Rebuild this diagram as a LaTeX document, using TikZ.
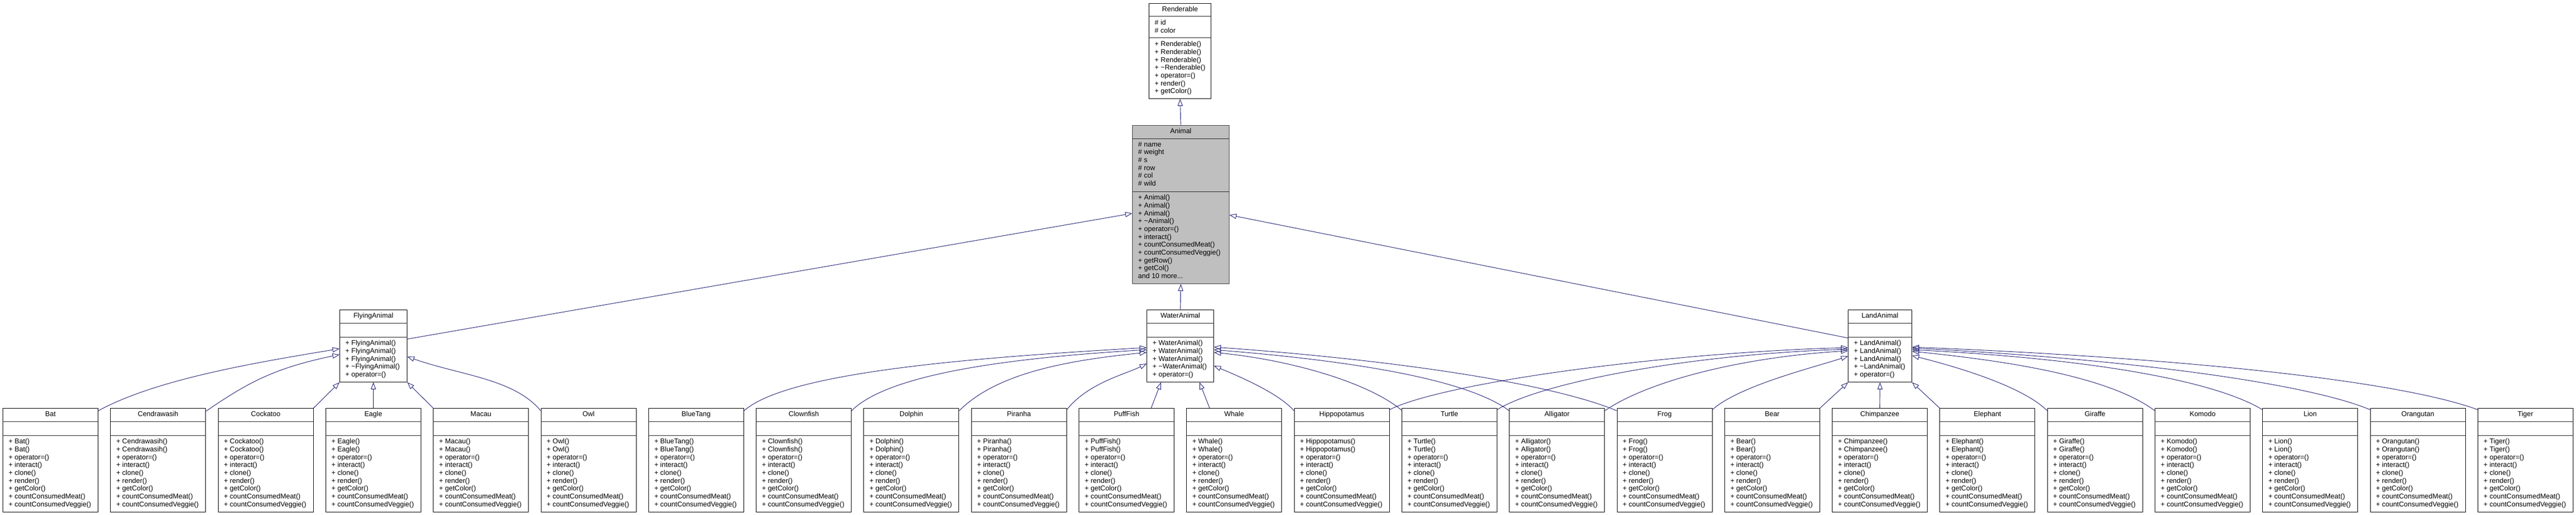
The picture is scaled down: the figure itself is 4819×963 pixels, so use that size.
\documentclass[tikz,border=0pt]{standalone}
\usepackage{fontspec}
\setmainfont{Liberation Sans}
\usepackage{tikz}
\usetikzlibrary{arrows.meta}
\definecolor{edgeblue}{rgb}{0.098,0.098,0.439}
\definecolor{basegray}{rgb}{0.75,0.75,0.75}

\tikzset{
  classbox/.style={draw=black, fill=white, line width=1pt, inner sep=0pt, anchor=north west},
  basebox/.style={classbox, draw=black!75, fill=basegray},
  classrule/.style={draw=black!85, line width=1pt},
  classtitle/.style={inner sep=0pt, text height=9.5pt, text depth=2.7pt},
  members/.style={inner sep=0pt, anchor=north west, align=left},
  derive/.style={draw=edgeblue, line width=0.9pt, -{Triangle[open, length=13pt, width=9.5pt]}}
}

% #1 style, #2 name, #3 left, #4 top, #5 width, #6 height, #7 second rule, #8 attributes, #9 operations
\newcommand{\umlclass}[9]{%
  \node[#1, minimum width=#5pt, minimum height=#6pt] (#2) at (#3,#4) {};
  \node[classtitle] (#2-title) at ([yshift=-12.5pt]#2.north) {#2};
  \draw[classrule] ([yshift=-25pt]#2.north west) -- ([yshift=-25pt]#2.north east);
  \draw[classrule] ([yshift=-#7pt]#2.north west) -- ([yshift=-#7pt]#2.north east);
  \node[members] (#2-attr) at ([xshift=11pt,yshift=-31pt]#2.north west) {#8};
  \node[members] (#2-ops) at ([xshift=11pt,yshift={-(#7+6)*1pt}]#2.north west) {#9};
}

\begin{document}
\begin{tikzpicture}[x=1pt, y=-1pt, font=\fontsize{13}{14.7}\selectfont]
  \useasboundingbox (0,0) rectangle (4819,963);

  \umlclass{classbox}{Renderable}{2149}{6}{116}{178}{65}{\# id\\\# color}
    {+ Renderable()\\+ Renderable()\\+ Renderable()\\+ \textasciitilde Renderable()\\+ operator=()\\+ render()\\+ getColor()}
  \umlclass{basebox}{Animal}{2118}{234}{181}{296}{124}{\# name\\\# weight\\\# s\\\# row\\\# col\\\# wild}
    {+ Animal()\\+ Animal()\\+ Animal()\\+ \textasciitilde Animal()\\+ operator=()\\+ interact()\\+ countConsumedMeat()\\+ countConsumedVeggie()\\+ getRow()\\+ getCol()\\and 10 more...}
  \umlclass{classbox}{FlyingAnimal}{635}{579}{126}{135}{51}{}
    {+ FlyingAnimal()\\+ FlyingAnimal()\\+ FlyingAnimal()\\+ \textasciitilde FlyingAnimal()\\+ operator=()}
  \umlclass{classbox}{WaterAnimal}{2145}{579}{125}{135}{51}{}
    {+ WaterAnimal()\\+ WaterAnimal()\\+ WaterAnimal()\\+ \textasciitilde WaterAnimal()\\+ operator=()}
  \umlclass{classbox}{LandAnimal}{3457}{579}{119}{135}{51}{}
    {+ LandAnimal()\\+ LandAnimal()\\+ LandAnimal()\\+ \textasciitilde LandAnimal()\\+ operator=()}

  \foreach \cls [count=\i from 0] in {Bat, Cendrawasih, Cockatoo, Eagle, Macau, Owl,
      BlueTang, Clownfish, Dolphin, Piranha, PuffFish, Whale, Hippopotamus, Turtle,
      Alligator, Frog, Bear, Chimpanzee, Elephant, Giraffe, Komodo, Lion, Orangutan, Tiger} {
    \pgfmathsetmacro\bx{5+201.3*\i}
    \umlclass{classbox}{\cls}{\bx}{763}{178}{194}{51}{}
      {+ \cls()\\+ \cls()\\+ operator=()\\+ interact()\\+ clone()\\+ render()\\+ getColor()\\+ countConsumedMeat()\\+ countConsumedVeggie()}
  }

  % bases
  \draw[derive] (Animal.north) -- (Renderable.south);
  \draw[derive] ([yshift=-55pt]FlyingAnimal.north east) -- ([yshift=-165pt]Animal.north west);
  \draw[derive] (WaterAnimal.north) -- (Animal.south);
  \draw[derive] ([yshift=-53pt]LandAnimal.north west) -- ([yshift=-168pt]Animal.north east);

  % flying
  \draw[derive] ([yshift=-5pt]Bat.north east) .. controls +(110,-60) and +(-150,25) .. ([yshift=-73pt]FlyingAnimal.north west);
  \draw[derive] ([yshift=-6pt]Cendrawasih.north east) .. controls +(80,-55) and +(-120,25) .. ([yshift=-84pt]FlyingAnimal.north west);
  \draw[derive] (Cockatoo.north east) -- (FlyingAnimal.south west);
  \draw[derive] (Eagle.north) -- (FlyingAnimal.south);
  \draw[derive] (Macau.north west) -- (FlyingAnimal.south east);
  \draw[derive] ([yshift=-5pt]Owl.north west) .. controls +(-50,-60) and +(100,35) .. ([yshift=-88pt]FlyingAnimal.north east);

  % water
  \draw[derive] ([yshift=-5pt]BlueTang.north east) .. controls +(80,-70) and +(-350,20) .. ([yshift=-71pt]WaterAnimal.north west);
  \draw[derive] ([yshift=-5pt]Clownfish.north east) .. controls +(70,-70) and +(-250,15) .. ([yshift=-75pt]WaterAnimal.north west);
  \draw[derive] ([yshift=-5pt]Dolphin.north east) .. controls +(70,-70) and +(-150,15) .. ([yshift=-80pt]WaterAnimal.north west);
  \draw[derive] ([yshift=-3pt]Piranha.north east) .. controls +(40,-50) and +(-40,20) .. ([yshift=-101pt]WaterAnimal.north west);
  \draw[derive] ([xshift=46pt]PuffFish.north) -- ([xshift=-36pt]WaterAnimal.south);
  \draw[derive] ([xshift=-46pt]Whale.north) -- ([xshift=36pt]WaterAnimal.south);
  \draw[derive] ([yshift=-5pt]Hippopotamus.north west) .. controls +(-30,-35) and +(35,15) .. ([yshift=-105pt]WaterAnimal.north east);
  \draw[derive] ([yshift=-4pt]Turtle.north west) .. controls +(-60,-50) and +(150,15) .. ([yshift=-80pt]WaterAnimal.north east);
  \draw[derive] ([yshift=-5pt]Alligator.north west) .. controls +(-80,-60) and +(250,20) .. ([yshift=-75pt]WaterAnimal.north east);
  \draw[derive] ([yshift=-5pt]Frog.north west) .. controls +(-120,-50) and +(350,25) .. ([yshift=-70pt]WaterAnimal.north east);

  % land
  \draw[derive] ([yshift=-3pt]Hippopotamus.north east) .. controls +(100,-50) and +(-350,10) .. ([yshift=-71pt]LandAnimal.north west);
  \draw[derive] ([yshift=-3pt]Turtle.north east) .. controls +(80,-50) and +(-300,10) .. ([yshift=-74pt]LandAnimal.north west);
  \draw[derive] ([yshift=-5pt]Alligator.north east) .. controls +(80,-55) and +(-200,12) .. ([yshift=-77pt]LandAnimal.north west);
  \draw[derive] ([yshift=-3pt]Frog.north east) .. controls +(50,-45) and +(-60,20) .. ([yshift=-87pt]LandAnimal.north west);
  \draw[derive] (Bear.north east) -- (LandAnimal.south west);
  \draw[derive] (Chimpanzee.north) -- (LandAnimal.south);
  \draw[derive] (Elephant.north west) -- (LandAnimal.south east);
  \draw[derive] ([yshift=-5pt]Giraffe.north west) .. controls +(-50,-50) and +(60,15) .. ([yshift=-86pt]LandAnimal.north east);
  \draw[derive] ([yshift=-5pt]Komodo.north west) .. controls +(-80,-60) and +(200,20) .. ([yshift=-78pt]LandAnimal.north east);
  \draw[derive] ([yshift=-3pt]Lion.north west) .. controls +(-100,-60) and +(300,15) .. ([yshift=-75pt]LandAnimal.north east);
  \draw[derive] ([yshift=-3pt]Orangutan.north west) .. controls +(-120,-50) and +(400,20) .. ([yshift=-72pt]LandAnimal.north east);
  \draw[derive] ([yshift=-3pt]Tiger.north west) .. controls +(-150,-55) and +(500,20) .. ([yshift=-70pt]LandAnimal.north east);
\end{tikzpicture}
\end{document}
